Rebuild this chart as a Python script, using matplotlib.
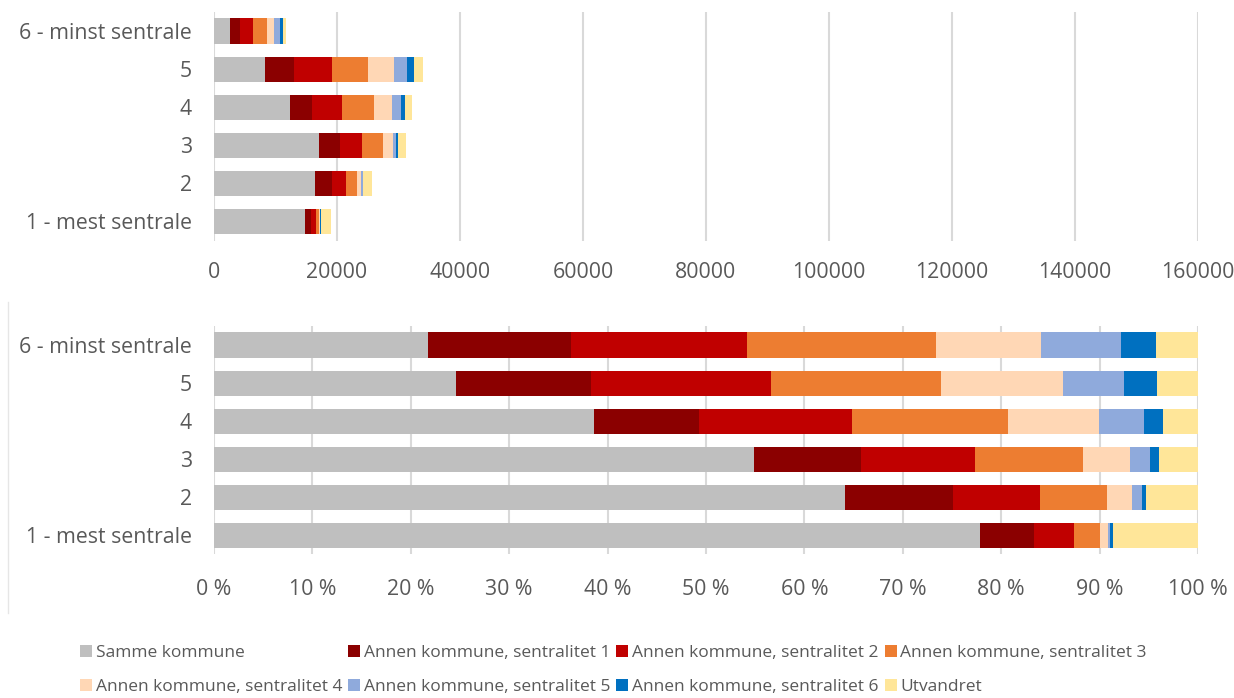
import numpy as np
import matplotlib
matplotlib.use("Agg")
from matplotlib import pyplot as plt
from matplotlib.ticker import FuncFormatter
from matplotlib.lines import Line2D

categories = ['1 - mest sentrale', '2', '3', '4', '5', '6 - minst sentrale']
series = ['Samme kommune',
          'Annen kommune, sentralitet 1',
          'Annen kommune, sentralitet 2',
          'Annen kommune, sentralitet 3',
          'Annen kommune, sentralitet 4',
          'Annen kommune, sentralitet 5',
          'Annen kommune, sentralitet 6',
          'Utvandret']
colors = ['#BFBFBF', '#8B0000', '#C00000', '#ED7D31',
          '#FFD7B5', '#8FAADC', '#0070C0', '#FFE699']

# antall personer per sentralitet (1..6)
samme = [14760, 16440, 17110, 12430, 8350, 2540]
sent1 = [1040, 2820, 3400, 3450, 4650, 1710]
sent2 = [780, 2260, 3620, 4990, 6210, 2090]
sent3 = [510, 1770, 3400, 5120, 5870, 2250]
sent4 = [150, 640, 1500, 2960, 4210, 1240]
sent5 = [40, 260, 620, 1480, 2100, 950]
sent6 = [60, 100, 280, 610, 1120, 420]
utvandret = [1630, 1360, 1250, 1160, 1430, 500]

data = np.array([samme, sent1, sent2, sent3, sent4, sent5, sent6, utvandret], dtype=float)
share = data / data.sum(axis=0) * 100

txt = '#595959'
grid = '#D9D9D9'
lab_font = ['Open Sans', 'DejaVu Sans']

fig = plt.figure(figsize=(12.34, 6.98), dpi=100)
ax1 = fig.add_axes([0.1734, 0.6554, 0.7974, 0.3274])
ax2 = fig.add_axes([0.1734, 0.2056, 0.7974, 0.3274])

y = np.arange(len(categories))
for ax, vals in [(ax1, data), (ax2, share)]:
    left = np.zeros(len(categories))
    for i in range(len(series)):
        ax.barh(y, vals[i], left=left, height=0.66, color=colors[i], label=series[i], zorder=3)
        left += vals[i]
    ax.set_ylim(-0.5, 5.5)
    ax.set_yticks(y)
    ax.set_yticklabels(categories)
    for s in ax.spines.values():
        s.set_visible(False)
    ax.xaxis.grid(True, color=grid, linewidth=1.5, zorder=0)
    ax.tick_params(length=0, colors=txt, labelsize=15.3)
    ax.tick_params(axis='y', pad=16)

ax1.set_xlim(0, 160000)
ax1.set_xticks(np.arange(0, 160001, 20000))
ax1.tick_params(axis='x', pad=15.5)
ax2.set_xlim(0, 100)
ax2.set_xticks(np.arange(0, 101, 10))
ax2.xaxis.set_major_formatter(FuncFormatter(lambda v, p: '%d %%' % v))
ax2.tick_params(axis='x', pad=18)
for ax in (ax1, ax2):
    for t in ax.get_xticklabels() + ax.get_yticklabels():
        t.set_family(lab_font)

# faint chart-area border at left of the lower chart
fig.add_artist(Line2D([0.0065, 0.0065], [1 - 302 / 698, 1 - 613 / 698],
                      transform=fig.transFigure, color='#E6E6E6', linewidth=1))

handles, labels = ax2.get_legend_handles_labels()
order = [0, 4, 1, 5, 2, 6, 3, 7]
leg = fig.legend([handles[i] for i in order], [labels[i] for i in order],
                 loc='center', bbox_to_anchor=(0.497, 0.04), ncol=4, frameon=False,
                 handlelength=0.7, handleheight=0.7, handletextpad=0.2,
                 columnspacing=0.35, labelspacing=1.0,
                 prop={'family': lab_font, 'size': 12.5})
for t in leg.get_texts():
    t.set_color(txt)

fig.savefig('out.png', dpi=100)
